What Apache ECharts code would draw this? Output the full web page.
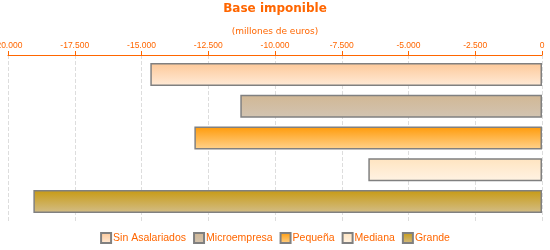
<!DOCTYPE html>
<html><head><meta charset="utf-8">
<script src="https://cdn.jsdelivr.net/npm/echarts@6/dist/echarts.min.js"></script>
<style>html,body{margin:0;padding:0;background:#fff}#c{width:550px;height:250px}</style>
</head><body><div id="c"></div>
<script>
const titleText = 'Base imponible';
const subtitleText = '(millones de euros)';
const categories = [''];
const seriesNames = ['Sin Asalariados', 'Microempresa', 'Pequeña', 'Mediana', 'Grande'];
const seriesValues = [[-14670], [-11300], [-13020], [-6505], [-19050]];
const axisMin = -20000, axisMax = 0, axisInterval = 2500;

const gradients = [
  ['#FDC898', '#FFEBD8'],
  ['#D1B794', '#D2C4B2'],
  ['#FF9A08', '#FFD38E'],
  ['#FFE4C0', '#FFF3E4'],
  ['#C79A12', '#D3BD88']
];
function grad(c){return new echarts.graphic.LinearGradient(0,0,0,1,[{offset:0,color:c[0]},{offset:1,color:c[1]}]);}
function fmt(v){
  const s = Math.abs(v).toFixed(0).replace(/\B(?=(\d{3})+(?!\d))/g, '.');
  return (v < 0 ? '-' : '') + s;
}
const chart = echarts.init(document.getElementById('c'), null, {renderer:'canvas'});
const FONT = 'Liberation Sans';
chart.setOption({
  animation:false,
  title:[
    {text:titleText,left:'center',top:3,padding:0,textStyle:{color:'#FF6600',fontSize:12,fontWeight:'bold',fontFamily:'DejaVu Sans'}},
    {text:subtitleText,left:'center',top:27,padding:0,textStyle:{color:'#FF6600',fontSize:9,fontWeight:'normal',fontFamily:'DejaVu Sans'}}
  ],
  legend:{
    bottom:6,left:'center',padding:0,itemWidth:10,itemHeight:10,itemGap:7,
    icon:'rect',
    textStyle:{color:'#FF6600',fontSize:10.5,fontFamily:FONT,padding:[0,0,0,-3]},
    data:seriesNames
  },
  grid:{left:8,right:8,top:55,bottom:29,containLabel:false,outerBoundsMode:'none'},
  xAxis:{
    type:'value',position:'top',min:axisMin,max:axisMax,interval:axisInterval,
    axisLine:{show:true,lineStyle:{color:'#FF6600',width:1}},
    axisTick:{show:true,length:4,lineStyle:{color:'#FF6600'}},
    axisLabel:{color:'#FF6600',fontSize:8.5,fontFamily:FONT,margin:5,formatter:fmt},
    splitLine:{show:true,lineStyle:{color:'#DDDDDD',type:'dashed'}}
  },
  yAxis:{
    type:'category',data:categories,inverse:true,
    axisLine:{show:false},axisTick:{show:false},axisLabel:{show:false}
  },
  series:seriesNames.map((n,i)=>({
    name:n,type:'bar',data:seriesValues[i],barWidth:23,barGap:'38%',
    itemStyle:{color:grad(gradients[i]),borderColor:'#808080',borderWidth:1.5}
  }))
});
</script></body></html>
